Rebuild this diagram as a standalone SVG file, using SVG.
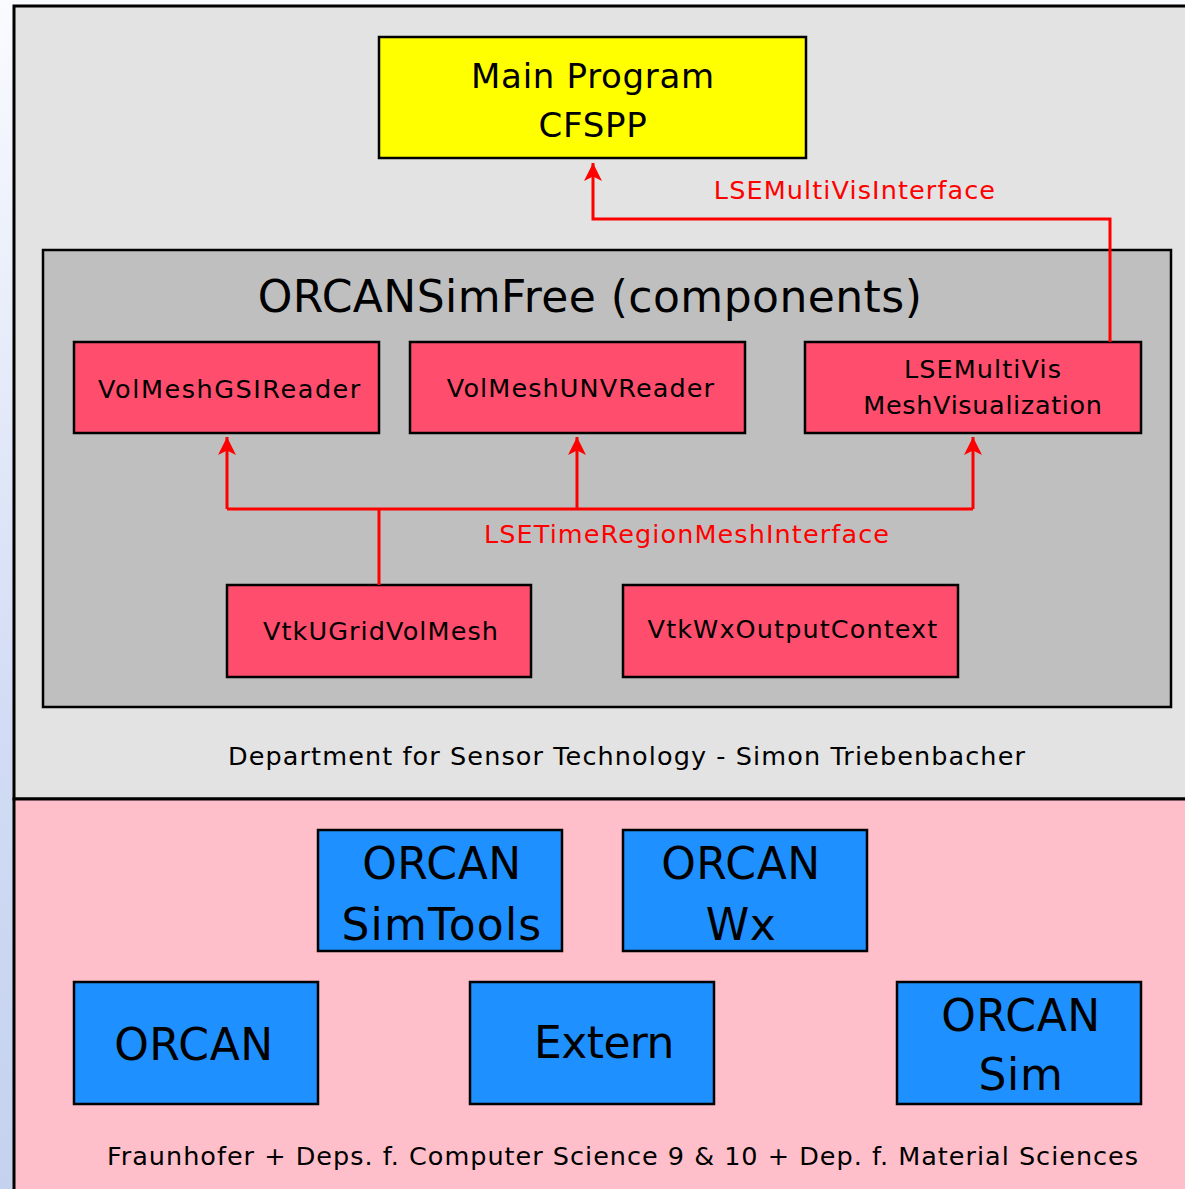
<svg xmlns="http://www.w3.org/2000/svg" width="1185" height="1189" viewBox="0 0 1185 1189">
  <defs>
    <linearGradient id="strip" x1="0" y1="0" x2="0" y2="1">
      <stop offset="0" stop-color="#fafbff"/>
      <stop offset="0.6" stop-color="#d2dcf4"/>
      <stop offset="1" stop-color="#c4d2ef"/>
    </linearGradient>
    <marker id="arrow" viewBox="0 0 10 10" refX="10" refY="5" markerWidth="6" markerHeight="6" markerUnits="strokeWidth" orient="auto">
      <path d="M0,0 L10,5 L0,10 L2.5,5 Z" fill="#ff0000"/>
    </marker>
    <style>
      text { font-family: "DejaVu Sans", "Liberation Sans", sans-serif; text-anchor: middle; fill: #000; }
      .frame { stroke: #000; stroke-width: 3; }
      .box { stroke: #000; stroke-width: 2.5; }
      .main { fill: #ffff00; }
      .comp { fill: #ff4d6d; }
      .lib { fill: #1e90ff; }
      .container { fill: #bfbfbf; stroke: #000; stroke-width: 2.5; }
      .link { fill: none; stroke: #ff0000; stroke-width: 3; }
      .lbl { fill: #ff0000; font-size: 25.5px; letter-spacing: 1.1px; }
      .small { font-size: 25.5px; letter-spacing: 1.1px; }
      .big { font-size: 44px; letter-spacing: 0.6px; }
    </style>
  </defs>

  <!-- background -->
  <rect x="0" y="0" width="1185" height="1189" fill="url(#strip)"/>
  <rect x="14" y="6" width="1180" height="793" fill="#e3e3e3" class="frame"/>
  <rect x="14" y="799" width="1180" height="400" fill="#ffbfca" class="frame"/>

  <!-- main program -->
  <g id="main-program">
    <rect x="379" y="37" width="427" height="121" class="box main"/>
    <text x="593" y="88" font-size="34" letter-spacing="0.7">Main Program</text>
    <text x="593" y="137" font-size="34" letter-spacing="0.7">CFSPP</text>
  </g>

  <!-- component container -->
  <g id="orcansimfree">
    <rect x="43" y="250" width="1128" height="457" class="container"/>
    <text x="590" y="312" font-size="44" letter-spacing="0.45">ORCANSimFree (components)</text>
  </g>

  <g id="volmeshgsireader">
    <rect x="74" y="342" width="305" height="91" class="box comp"/>
    <text x="230" y="398" class="small" style="letter-spacing:1.55px">VolMeshGSIReader</text>
  </g>
  <g id="volmeshunvreader">
    <rect x="410" y="342" width="335" height="91" class="box comp"/>
    <text x="581" y="397" class="small">VolMeshUNVReader</text>
  </g>
  <g id="lsemultivis">
    <rect x="805" y="342" width="336" height="91" class="box comp"/>
    <text x="983" y="378" class="small">LSEMultiVis</text>
    <text x="983" y="414" class="small" style="letter-spacing:0.65px">MeshVisualization</text>
  </g>
  <g id="vtkugridvolmesh">
    <rect x="227" y="585" width="304" height="92" class="box comp"/>
    <text x="381" y="640" class="small">VtkUGridVolMesh</text>
  </g>
  <g id="vtkwxoutputcontext">
    <rect x="623" y="585" width="335" height="92" class="box comp"/>
    <text x="793" y="638" class="small">VtkWxOutputContext</text>
  </g>

  <!-- connectors -->
  <g id="connectors">
    <path d="M1110,342 V219 H593 V163" class="link" marker-end="url(#arrow)"/>
    <path d="M379,585 V509" class="link"/>
    <path d="M227,509 H973" class="link"/>
    <path d="M227,509 V437" class="link" marker-end="url(#arrow)"/>
    <path d="M577,509 V437" class="link" marker-end="url(#arrow)"/>
    <path d="M973,509 V437" class="link" marker-end="url(#arrow)"/>
    <text x="855" y="199" class="lbl">LSEMultiVisInterface</text>
    <text x="687" y="543" class="lbl">LSETimeRegionMeshInterface</text>
  </g>

  <text x="627" y="765" class="small">Department for Sensor Technology - Simon Triebenbacher</text>

  <!-- libraries -->
  <g id="orcan-simtools">
    <rect x="318" y="830" width="244" height="121" class="box lib"/>
    <text x="442" y="879" class="big">ORCAN</text>
    <text x="442" y="940" class="big" style="letter-spacing:1.2px">SimTools</text>
  </g>
  <g id="orcan-wx">
    <rect x="623" y="830" width="244" height="121" class="box lib"/>
    <text x="741" y="879" class="big">ORCAN</text>
    <text x="741" y="940" class="big">Wx</text>
  </g>
  <g id="orcan">
    <rect x="74" y="982" width="244" height="122" class="box lib"/>
    <text x="194" y="1060" class="big">ORCAN</text>
  </g>
  <g id="extern">
    <rect x="470" y="982" width="244" height="122" class="box lib"/>
    <text x="604" y="1058" class="big" style="letter-spacing:-0.6px">Extern</text>
  </g>
  <g id="orcan-sim">
    <rect x="897" y="982" width="244" height="122" class="box lib"/>
    <text x="1021" y="1031" class="big">ORCAN</text>
    <text x="1021" y="1090" class="big">Sim</text>
  </g>

  <text x="623" y="1165" class="small" style="letter-spacing:1.0px">Fraunhofer + Deps. f. Computer Science 9 &amp; 10 + Dep. f. Material Sciences</text>
</svg>
